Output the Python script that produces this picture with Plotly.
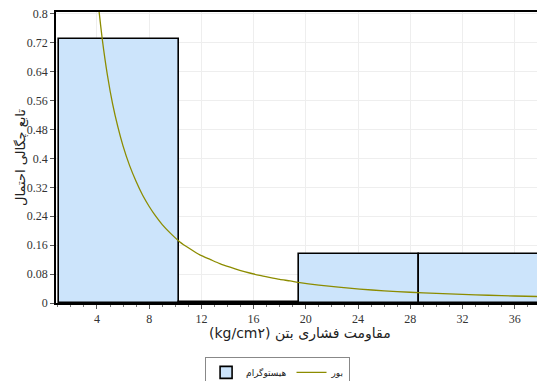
import plotly.graph_objects as go

# Histogram (relative frequency) data
bin_edges = [1.11, 10.29, 19.48, 28.66, 37.84]
bar_heights = [0.731, 0.002, 0.135, 0.135]

# Fitted Burr density curve
curve_x = [4.0, 4.15, 4.4, 4.8, 5.2, 5.6, 6.0, 6.5, 7.0, 7.5, 8.0, 8.5, 9.0, 9.6,
           10.35, 11.12, 11.88, 12.7, 13.41, 14.2, 14.94, 15.7, 16.47, 17.2, 18.0,
           18.8, 19.54, 21.0, 22.5, 24.13, 26.0, 28.0, 30.0, 32.0, 34.0, 36.0, 38.1]
curve_y = [0.86, 0.81, 0.731, 0.63, 0.55, 0.487, 0.434, 0.38, 0.336, 0.298, 0.267,
           0.24, 0.217, 0.194, 0.169, 0.150, 0.133, 0.12, 0.109, 0.099, 0.0905,
           0.083, 0.0764, 0.071, 0.0655, 0.061, 0.0564, 0.0495, 0.0438, 0.0385,
           0.0337, 0.0297, 0.0264, 0.0237, 0.0214, 0.0194, 0.0177]

x_ticks = [4, 8, 12, 16, 20, 24, 28, 32, 36]
y_ticks = [0, 0.08, 0.16, 0.24, 0.32, 0.4, 0.48, 0.56, 0.64, 0.72, 0.8]
y_tick_text = ["0", "0.08", "0.16", "0.24", "0.32", "0.4", "0.48", "0.56", "0.64", "0.72", "0.8"]

x_title = "(kg/cm۲) مقاومت فشاری بتن"
y_title = "تابع چگالی احتمال"

bar_centers = [(a + b) / 2 for a, b in zip(bin_edges[:-1], bin_edges[1:])]
bar_widths = [b - a for a, b in zip(bin_edges[:-1], bin_edges[1:])]

serif = "Liberation Serif"
persian = "DejaVu Sans"

fig = go.Figure()
fig.add_trace(go.Bar(
    x=bar_centers, y=bar_heights, width=bar_widths,
    name="هیستوگرام",
    marker=dict(color="#cce4fb", line=dict(color="black", width=1.6)),
))
fig.add_trace(go.Scatter(
    x=curve_x, y=curve_y, mode="lines", name="بور",
    line=dict(color="#8c8c00", width=1.3, shape="spline", smoothing=0.6),
))

fig.update_layout(
    width=537, height=373,
    margin=dict(l=48, r=2, t=4, b=78, autoexpand=False),
    paper_bgcolor="white", plot_bgcolor="white",
    showlegend=True,
    legend=dict(orientation="h", x=0.455, xanchor="center", y=-0.185, yanchor="top",
                bordercolor="#888888", borderwidth=1,
                font=dict(family=persian, size=9, color="#222"),
                itemwidth=30, traceorder="normal", tracegroupgap=0),
    bargap=0,
    annotations=[
        dict(text=y_title, xref="paper", yref="paper", x=-0.073, y=0.5,
             xanchor="center", yanchor="middle", textangle=-90, showarrow=False,
             font=dict(family=persian, size=13, color="#222")),
        dict(text=x_title, xref="paper", yref="paper", x=0.5, y=-0.106,
             xanchor="center", yanchor="middle", showarrow=False,
             font=dict(family=persian, size=14, color="#222")),
    ],
)
fig.update_xaxes(
    range=[0.86, 38.17], tickmode="array", tickvals=x_ticks,
    ticks="outside", ticklen=4, tickcolor="#555", automargin=False,
    showline=True, linecolor="black", linewidth=1.5, mirror=True,
    showgrid=True, gridcolor="#eeeeee",
    minor=dict(ticks="outside", dtick=1, ticklen=2, tickcolor="#777", showgrid=False),
    tickfont=dict(family=serif, size=12, color="#333"),
    ticklabeloverflow="allow",
    zeroline=False,
)
fig.update_yaxes(
    range=[0, 0.805], tickmode="array", tickvals=y_ticks, ticktext=y_tick_text,
    ticks="outside", ticklen=4, tickcolor="#555", automargin=False,
    showline=True, linecolor="black", linewidth=1.5, mirror=True,
    showgrid=True, gridcolor="#eeeeee",
    tickfont=dict(family=serif, size=12, color="#333"),
    ticklabeloverflow="allow",
    zeroline=False,
)

fig.write_html("out.html")
